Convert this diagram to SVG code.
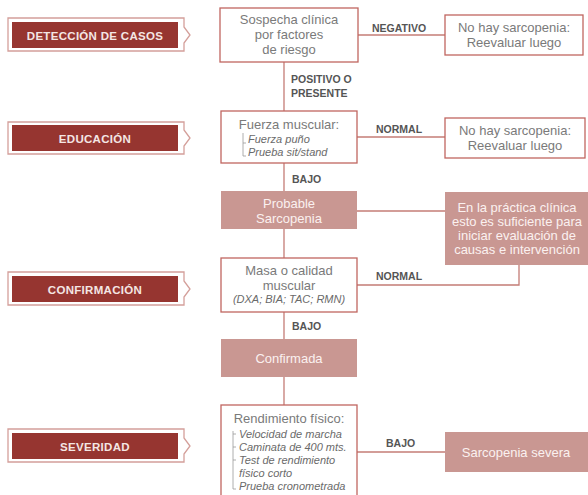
<svg xmlns="http://www.w3.org/2000/svg" width="588" height="495" viewBox="0 0 588 495">
<defs>
<style>
.lbl-out{fill:none;stroke:#d49f9a;stroke-width:1.3}
.lbl-in{fill:#963530}
.lbl-t{font-family:"Liberation Sans",Arial,sans-serif;font-weight:bold;font-size:11.5px;fill:#f4e6e4;text-anchor:middle;letter-spacing:0.3px}
.box{fill:#fff;stroke:#c06660;stroke-width:1.3}
.fbox{fill:#c99792}
.t{font-family:"Liberation Sans",Arial,sans-serif;font-size:13px;fill:#7a7a7a;text-anchor:middle}
.tw{font-family:"Liberation Sans",Arial,sans-serif;font-size:13px;fill:#fbf1f0;text-anchor:middle}
.ti{font-family:"Liberation Sans",Arial,sans-serif;font-size:11px;font-style:italic;fill:#6a6a6a}
.e{font-family:"Liberation Sans",Arial,sans-serif;font-weight:bold;font-size:10.5px;fill:#555}
.c{fill:none;stroke:#c47c76;stroke-width:1.3}
.br{fill:none;stroke:#999;stroke-width:0.8}
</style>
</defs>
<g id="connectors">
<path class="c" d="M284 62V111"/>
<path class="c" d="M284 163V191"/>
<path class="c" d="M284 229V258"/>
<path class="c" d="M284 312V339"/>
<path class="c" d="M284 377V405"/>
<path class="c" d="M358 35H445"/>
<path class="c" d="M357 137H445"/>
<path class="c" d="M357 211H445"/>
<path class="c" d="M357 285H519V265"/>
<path class="c" d="M357 452H445"/>
<text class="e" x="372" y="32">NEGATIVO</text>
<text class="e" x="291" y="83">POSITIVO O</text>
<text class="e" x="291" y="97">PRESENTE</text>
<text class="e" x="376" y="133">NORMAL</text>
<text class="e" x="292" y="183">BAJO</text>
<text class="e" x="376" y="280">NORMAL</text>
<text class="e" x="292" y="330">BAJO</text>
<text class="e" x="386" y="447">BAJO</text>
</g>
<g id="lbl-deteccion">
<polygon class="lbl-out" points="8,18 184,18 184,27 190,35 184,43 184,51 8,51"/>
<rect class="lbl-in" x="12" y="22" width="166" height="26"/>
<text class="lbl-t" x="95" y="39.5">DETECCIÓN DE CASOS</text>
</g>
<g id="lbl-educacion">
<polygon class="lbl-out" points="8,122 184,122 184,130 190,138 184,146 184,154 8,154"/>
<rect class="lbl-in" x="12" y="125" width="166" height="26"/>
<text class="lbl-t" x="95" y="142.5">EDUCACIÓN</text>
</g>
<g id="lbl-confirmacion">
<polygon class="lbl-out" points="8,272 184,272 184,281 190,289 184,297 184,305 8,305"/>
<rect class="lbl-in" x="12" y="276" width="166" height="26"/>
<text class="lbl-t" x="95" y="293.5">CONFIRMACIÓN</text>
</g>
<g id="lbl-severidad">
<polygon class="lbl-out" points="8,429 184,429 184,438 190,446 184,454 184,462 8,462"/>
<rect class="lbl-in" x="12" y="433" width="166" height="26"/>
<text class="lbl-t" x="95" y="450.5">SEVERIDAD</text>
</g>
<g id="n-sospecha">
<rect class="box" x="220" y="8" width="138" height="54"/>
<text class="t" x="289" y="24">Sospecha clínica</text>
<text class="t" x="289" y="39">por factores</text>
<text class="t" x="289" y="54">de riesgo</text>
</g>
<g id="n-nohay1">
<rect class="box" x="445" y="15" width="138" height="40"/>
<text class="t" x="514" y="32">No hay sarcopenia:</text>
<text class="t" x="514" y="47">Reevaluar luego</text>
</g>
<g id="n-fuerza">
<rect class="box" x="221" y="111" width="136" height="52"/>
<text class="t" x="289" y="129">Fuerza muscular:</text>
<path class="br" d="M243 133V156H246M243 143H246"/>
<text class="ti" x="248" y="143">Fuerza puño</text>
<text class="ti" x="248" y="156">Prueba sit/stand</text>
</g>
<g id="n-nohay2">
<rect class="box" x="445" y="118" width="140" height="40"/>
<text class="t" x="515" y="135">No hay sarcopenia:</text>
<text class="t" x="515" y="150">Reevaluar luego</text>
</g>
<g id="n-probable">
<rect class="fbox" x="221" y="191" width="136" height="38"/>
<text class="tw" x="289" y="208">Probable</text>
<text class="tw" x="289" y="223">Sarcopenia</text>
</g>
<g id="n-practica">
<rect class="fbox" x="445" y="192" width="143" height="73"/>
<text class="tw" x="517" y="212">En la práctica clínica</text>
<text class="tw" x="517" y="226">esto es suficiente para</text>
<text class="tw" x="517" y="240">iniciar evaluación de</text>
<text class="tw" x="517" y="254">causas e intervención</text>
</g>
<g id="n-masa">
<rect class="box" x="221" y="258" width="136" height="54"/>
<text class="t" x="289" y="275">Masa o calidad</text>
<text class="t" x="289" y="290">muscular</text>
<text class="ti" x="289" y="303" text-anchor="middle" font-size="11.5">(DXA; BIA; TAC; RMN)</text>
</g>
<g id="n-confirmada">
<rect class="fbox" x="221" y="339" width="136" height="38"/>
<text class="tw" x="289" y="363">Confirmada</text>
</g>
<g id="n-rendimiento">
<rect class="box" x="221" y="405" width="136" height="100"/>
<text class="t" x="289" y="423">Rendimiento físico:</text>
<path class="br" d="M233 431V489H236M233 434H236M233 447H236M233 460H236"/>
<text class="ti" x="239" y="438">Velocidad de marcha</text>
<text class="ti" x="239" y="451">Caminata de 400 mts.</text>
<text class="ti" x="239" y="464">Test de rendimiento</text>
<text class="ti" x="239" y="477">físico corto</text>
<text class="ti" x="239" y="490">Prueba cronometrada</text>
</g>
<g id="n-severa">
<rect class="fbox" x="445" y="432" width="143" height="40"/>
<text class="tw" x="516" y="457">Sarcopenia severa</text>
</g>
</svg>
